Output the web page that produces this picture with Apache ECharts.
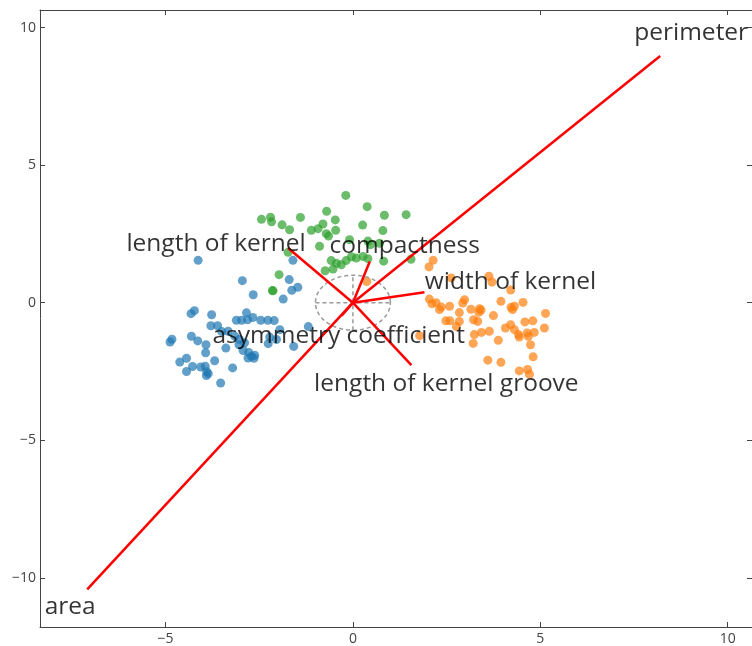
<!DOCTYPE html>
<html>
<head>
<meta charset="utf-8">
<script src="https://cdn.jsdelivr.net/npm/echarts@6/dist/echarts.min.js"></script>
<style>
  html, body { margin: 0; padding: 0; background: #fff; }
  #chart { width: 752px; height: 646px; }
</style>
</head>
<body>
<div id="chart"></div>
<script>
// PCA scores (PC1, PC2) for the three seed groups
const cluster0 = [
  [-4.13,1.54],[-1.60,1.54],[-2.95,0.80],[-1.70,0.84],[-1.63,0.45],[-1.47,0.56],[-1.86,0.13],[-2.66,0.29],
  [-4.32,-0.40],[-4.23,-0.29],[-3.77,-0.44],[-3.79,-0.84],[-3.61,-0.84],[-3.11,-0.64],[-2.97,-0.64],[-2.84,-0.37],
  [-2.81,-0.62],[-2.67,-0.54],[-2.46,-0.64],[-2.27,-0.64],[-2.10,-0.65],[-1.19,-0.87],[-4.83,-1.33],[-4.88,-1.43],
  [-4.31,-1.22],[-4.14,-1.39],[-3.92,-1.53],[-3.39,-1.65],[-3.93,-1.82],[-3.33,-1.04],[-3.15,-1.22],[-3.03,-1.34],
  [-2.89,-1.46],[-3.04,-1.53],[-2.22,-1.25],[-2.26,-1.49],[-2.04,-1.34],[-1.58,-1.59],[-2.93,-1.74],[-2.78,-1.81],
  [-2.71,-1.95],[-2.62,-1.91],[-2.80,-2.01],[-2.64,-2.02],[-4.62,-2.16],[-4.44,-2.02],[-3.69,-2.11],[-4.28,-2.32],
  [-4.06,-2.34],[-3.94,-2.31],[-3.90,-2.51],[-3.86,-2.58],[-3.91,-2.65],[-4.44,-2.50],[-3.21,-2.37],[-3.53,-2.92],
  [-1.95,-0.98],[-3.50,-1.05]
];
const cluster1 = [
  [2.14,1.54],[2.03,1.30],[2.62,0.90],[3.63,0.96],[3.71,0.75],[4.21,0.46],[2.04,0.13],[2.11,-0.04],
  [2.22,0.00],[2.36,-0.16],[2.31,-0.25],[2.58,-0.13],[2.48,-0.66],[2.59,-0.66],[2.76,-0.87],[2.84,-0.68],
  [2.98,0.11],[2.93,-0.01],[2.84,-0.36],[3.15,-0.24],[3.22,-0.62],[3.33,-0.68],[3.38,-0.22],[3.42,-0.27],
  [3.36,-0.35],[3.75,-0.47],[3.95,0.05],[4.22,-0.17],[4.26,-0.25],[4.31,-0.13],[4.54,0.01],[3.24,-1.16],
  [3.43,-1.08],[3.64,-1.04],[3.21,-1.48],[3.88,-1.37],[4.07,-0.92],[4.21,-0.80],[4.31,-0.98],[4.42,-1.16],
  [4.44,-1.25],[4.59,-0.70],[4.80,-0.66],[4.65,-1.10],[4.68,-1.22],[4.84,-1.08],[4.74,-1.53],[5.11,-0.92],
  [5.14,-0.39],[3.60,-2.09],[3.95,-2.17],[4.81,-1.97],[4.44,-2.48],[4.66,-2.43],[4.71,-2.60],[0.37,0.77],
  [1.78,-1.20]
];
const cluster2 = [
  [-0.19,3.90],[0.38,3.49],[-0.70,3.32],[-0.47,3.01],[-1.40,3.10],[0.84,3.18],[1.42,3.20],[-2.44,3.03],
  [-2.20,3.11],[-2.17,2.94],[-1.89,2.83],[-1.69,2.65],[-1.11,2.63],[-0.93,2.69],[-0.80,2.86],[-0.71,2.51],
  [-0.65,2.42],[-0.46,2.63],[0.26,2.82],[0.80,2.62],[-0.09,2.29],[0.40,2.24],[0.47,2.11],[0.71,2.16],
  [-0.89,2.05],[-1.73,1.83],[0.82,1.51],[1.55,1.58],[-0.58,1.53],[-0.44,1.43],[-0.31,1.38],[-0.18,1.53],
  [-0.04,1.67],[0.09,1.62],[0.27,1.68],[0.40,1.60],[-0.74,1.16],[-0.53,1.22],[-1.97,1.02],[-2.15,0.44],
  [-2.13,0.43]
];

// Feature loading vectors
const featureNames = ['area', 'perimeter', 'compactness', 'length of kernel', 'width of kernel', 'asymmetry coefficient', 'length of kernel groove'];
const loadingX = [-7.09, 8.20, 0.45, -1.73, 1.91, -0.30, 1.56];
const loadingY = [-10.42, 8.97, 1.50, 1.99, 0.38, -0.47, -2.27];

// Axis ticks and the reference unit circle
const xTicks = [-5, 0, 5, 10];
const yTicks = [-10, -5, 0, 5, 10];
const guideRadius = 1;

// Pixel offsets of each vector's caption from its tip
const captionOffset = {
  'area': [-17, 18],
  'perimeter': [31, -23],
  'compactness': [35, -15],
  'length of kernel': [-72, -4],
  'width of kernel': [86, -10],
  'asymmetry coefficient': [-3, 20],
  'length of kernel groove': [35, 19]
};

const axisColor = '#444';
const fmt = v => (v < 0 ? '\u2212' + Math.abs(v) : String(v));

function makeXAxis(pos, showLabel) {
  return {
    type: 'value', position: pos, min: -8.35, max: 10.65,
    splitLine: { show: false },
    axisLine: { show: true, onZero: false, lineStyle: { color: axisColor, width: 1 } },
    axisTick: { show: true, inside: true, length: 5, customValues: xTicks, lineStyle: { color: axisColor } },
    axisLabel: { show: showLabel, customValues: xTicks, formatter: fmt, color: axisColor,
                 fontFamily: 'Open Sans', fontSize: 14, margin: 5 }
  };
}
function makeYAxis(pos, showLabel) {
  return {
    type: 'value', position: pos, min: -11.79, max: 10.64,
    splitLine: { show: false },
    axisLine: { show: true, onZero: false, lineStyle: { color: axisColor, width: 1 } },
    axisTick: { show: true, inside: true, length: 5, customValues: yTicks, lineStyle: { color: axisColor } },
    axisLabel: { show: showLabel, customValues: yTicks, formatter: fmt, color: axisColor,
                 fontFamily: 'Open Sans', fontSize: 14, margin: 4 }
  };
}

const scatterStyle = (color) => ({
  type: 'scatter', symbol: 'circle', symbolSize: 9, z: 2, silent: true,
  itemStyle: { color: color, opacity: 0.7 }
});

const chart = echarts.init(document.getElementById('chart'), null, { renderer: 'canvas' });
chart.setOption({
  animation: false,
  backgroundColor: '#fff',
  grid: { left: 40, top: 10, right: -1, bottom: 18, containLabel: false },
  xAxis: [makeXAxis('bottom', true), makeXAxis('top', false)],
  yAxis: [makeYAxis('left', true), makeYAxis('right', false)],
  series: [
    Object.assign(scatterStyle('#1f77b4'), { data: cluster0 }),
    Object.assign(scatterStyle('#ff7f0e'), { data: cluster1 }),
    Object.assign(scatterStyle('#2ca02c'), { data: cluster2 }),
    {
      // dashed unit circle with cross hairs at the origin
      type: 'custom', z: 3, silent: true, clip: false,
      data: [[0, 0]],
      renderItem: function (params, api) {
        const pts = [];
        for (let i = 0; i <= 96; i++) {
          const t = (i / 96) * Math.PI * 2;
          pts.push(api.coord([guideRadius * Math.cos(t), guideRadius * Math.sin(t)]));
        }
        const l = api.coord([-guideRadius, 0]), r = api.coord([guideRadius, 0]);
        const b = api.coord([0, -guideRadius]), t = api.coord([0, guideRadius]);
        const style = { stroke: '#9a9a9a', lineWidth: 1.5, lineDash: [4, 3], fill: null };
        return {
          type: 'group',
          children: [
            { type: 'polyline', shape: { points: pts }, style: style },
            { type: 'line', shape: { x1: l[0], y1: l[1], x2: r[0], y2: r[1] }, style: style },
            { type: 'line', shape: { x1: b[0], y1: b[1], x2: t[0], y2: t[1] }, style: style }
          ]
        };
      }
    },
    {
      type: 'lines', coordinateSystem: 'cartesian2d', z: 4, silent: true,
      lineStyle: { color: '#ff0000', width: 2.5, opacity: 1 },
      data: featureNames.map((n, i) => ({ coords: [[0, 0], [loadingX[i], loadingY[i]]] }))
    },
    {
      type: 'scatter', z: 10, silent: true, symbolSize: 1,
      itemStyle: { color: 'rgba(0,0,0,0)' },
      label: {
        show: true, position: 'inside', formatter: '{b}', color: '#000',
        fontFamily: 'Open Sans', fontSize: 24.5, align: 'center', verticalAlign: 'middle'
      },
      data: featureNames.map((n, i) => ({
        name: n, value: [loadingX[i], loadingY[i]],
        label: { offset: captionOffset[n] }
      }))
    }
  ]
});
</script>
</body>
</html>
